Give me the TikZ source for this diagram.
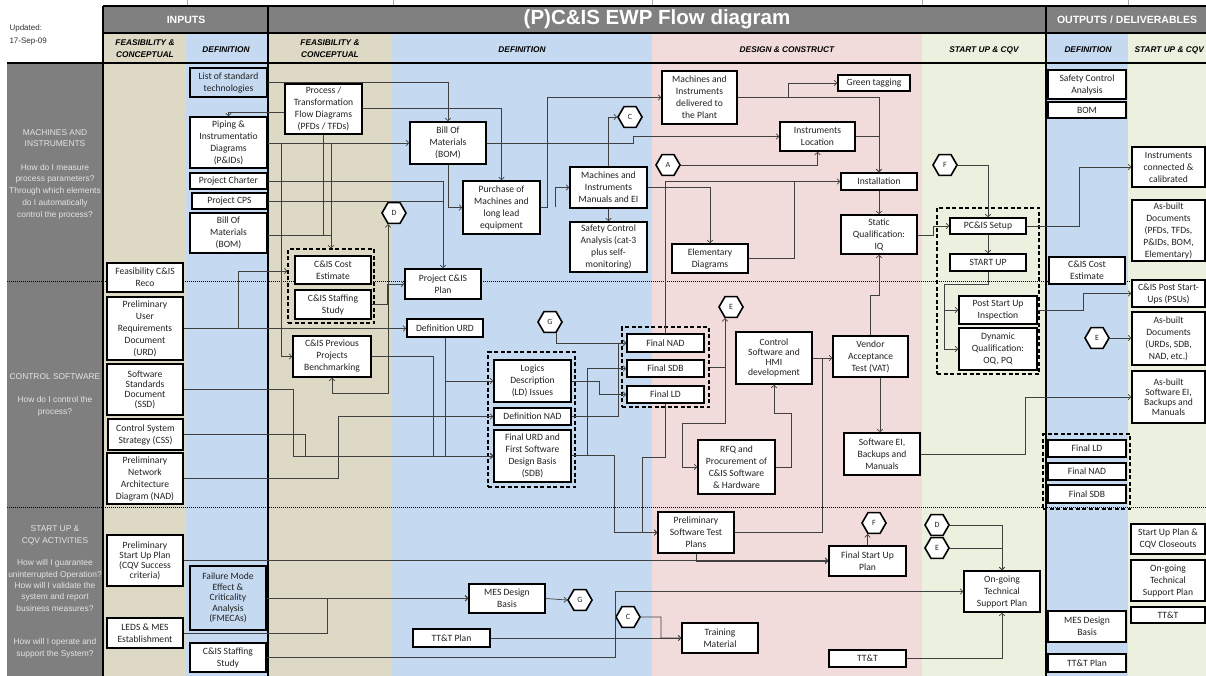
\documentclass[tikz,border=0pt]{standalone}
\usepackage{fontspec}
\setmainfont{Carlito}
\newfontfamily\arialfont{Liberation Sans}
\usetikzlibrary{arrows.meta,shapes.geometric}
\definecolor{hdrgray}{HTML}{808080}
\definecolor{sidegray}{HTML}{7F7F7F}
\definecolor{tanbg}{HTML}{DDD9C4}
\definecolor{bluebg}{HTML}{C5D9F1}
\definecolor{pinkbg}{HTML}{F2DCDB}
\definecolor{greenbg}{HTML}{EBF1DE}
\definecolor{sidetext}{HTML}{E4E4E4}
\definecolor{linegray}{HTML}{404040}
\definecolor{boxtext}{HTML}{222222}
% box given by its corners: [options]{name}{x1}{y1}{x2}{y2}{text}
\newcommand\flowbox[7][]{\node[bx,minimum width={#5-#3},minimum height={#6-#4},#1] (#2) at ({(#3+#5)/2},{(#4+#6)/2}) {#7};}
\begin{document}
\begin{tikzpicture}[x=1pt,y=-1pt,
  bx/.style={draw=black,fill=white,line width=1.6pt,align=center,inner sep=0pt,
    font=\fontsize{9.6}{12}\selectfont,text=boxtext},
  tight/.style={font=\fontsize{9.6}{10}\selectfont},
  grp/.style={fill=none,draw=black,line width=1.2pt,dash pattern=on 4pt off 2.5pt},
  hexa/.style={regular polygon,regular polygon sides=6,draw=black,fill=white,line width=1.6pt,
    minimum size=24pt,inner sep=0pt,font=\fontsize{8}{9}\selectfont,text=boxtext},
  ln/.style={draw=linegray,line width=0.7pt},
  arr/.style={ln,-{Straight Barb[length=2.6pt,width=5.5pt]}},
  arrb/.style={ln,{Straight Barb[length=2.6pt,width=5.5pt]}-{Straight Barb[length=2.6pt,width=5.5pt]}},
  hdr/.style={text=white,font=\arialfont\bfseries\fontsize{10.5}{12}\selectfont},
  sub/.style={align=center,font=\arialfont\bfseries\itshape\fontsize{8.3}{11.5}\selectfont},
  side/.style={align=center,text=sidetext,font=\arialfont\fontsize{8.4}{11.7}\selectfont},
  sep/.style={line width=0.9pt,dash pattern=on 1pt off 1pt}
]
\useasboundingbox (0,0) rectangle (1206,676);
\fill[white] (0,0) rectangle (1206,676);

% phase columns
\fill[tanbg]   (103,33)  rectangle (186,676);
\fill[bluebg]  (186,33)  rectangle (268,676);
\fill[tanbg]   (268,33)  rectangle (392,676);
\fill[bluebg]  (392,33)  rectangle (652,676);
\fill[pinkbg]  (652,33)  rectangle (922,676);
\fill[greenbg] (922,33)  rectangle (1046,676);
\fill[bluebg]  (1046,33) rectangle (1128,676);
\fill[greenbg] (1128,33) rectangle (1206,676);
\fill[hdrgray] (103,6) rectangle (1206,33);
\fill[sidegray] (7,63) rectangle (103,676);

% column ticks above the header
\foreach \cx in {187,393,652,922,1128}
  \draw[black!35,line width=0.8pt] (\cx,0) -- (\cx,6);

% frame lines
\draw[line width=1.5pt] (103,6) -- (1206,6);
\draw[line width=1.8pt] (103,33) -- (1206,33);
\draw[line width=1.8pt] (7,63) -- (1206,63);
\draw[line width=1.8pt] (103,6) -- (103,676);
\draw[line width=1.8pt] (268,6) -- (268,676);
\draw[line width=1.8pt] (1046,6) -- (1046,676);

% row separators
\draw[sep] (7,281) -- (1206,281);
\draw[sep] (7,507) -- (1206,507);

% headings
\node[anchor=west,text=black!80,font=\arialfont\fontsize{8}{9}\selectfont] at (6,28) {Updated:};
\node[anchor=west,text=black!80,font=\arialfont\fontsize{8}{9}\selectfont] at (6,42) {17-Sep-09};
\node[hdr] at (186,19.5) {INPUTS};
\node[hdr,font=\arialfont\bfseries\fontsize{20.5}{22}\selectfont] at (657,19.5) {(P)C\&IS EWP Flow diagram};
\node[hdr] at (1127,19.5) {OUTPUTS / DELIVERABLES};
\node[sub] at (145,48.5) {FEASIBILITY \&\\CONCEPTUAL};
\node[sub] at (226,50) {DEFINITION};
\node[sub] at (330,48.5) {FEASIBILITY \&\\CONCEPTUAL};
\node[sub] at (522,50) {DEFINITION};
\node[sub] at (787,50) {DESIGN \& CONSTRUCT};
\node[sub] at (984,50) {START UP \& CQV};
\node[sub] at (1088,50) {DEFINITION};
\node[sub,anchor=west] at (1131,50) {START UP \& CQV};

% row titles
\node[side] at (55,174) {MACHINES AND\\INSTRUMENTS\\[11.7pt]How do I measure\\process parameters?\\Through which elements\\do I automatically\\control the process?};
\node[side] at (55,394.5) {CONTROL SOFTWARE\\[11.7pt]How do I control the\\process?};
\node[side,font=\arialfont\fontsize{8.4}{11.3}\selectfont] at (55,592) {START UP \&\\CQV ACTIVITIES\\[11.3pt]How will I guarantee\\uninterrupted Operation?\\How will I validate the\\system and report\\business measures?\\[22.6pt]How will I operate and\\support the System?};

% dashed groups
\flowbox[grp]{g1}{288}{249}{374}{323}{}
\flowbox[grp]{g2}{488}{352}{575}{487}{}
\flowbox[grp]{g3}{622}{327}{709}{407}{}
\flowbox[grp]{g4}{937}{208}{1039}{374}{}
\flowbox[grp]{g5}{1043}{434}{1130}{509}{}

% inputs: feasibility & conceptual
\flowbox{reco}{107}{263}{183}{292}{Feasibility C\&IS\\Reco}
\flowbox{purd}{107}{297}{183}{360}{Preliminary\\User\\Requirements\\Document\\(URD)}
\flowbox[tight]{ssd}{107}{364}{183}{415}{Software\\Standards\\Document\\(SSD)}
\flowbox{css}{108}{419}{183}{450}{Control System\\Strategy (CSS)}
\flowbox{pnad}{107}{453}{183}{504}{Preliminary\\Network\\Architecture\\Diagram (NAD)}
\flowbox[tight]{psup}{107}{535}{183}{586}{Preliminary\\Start Up Plan\\(CQV Success\\criteria)}
\flowbox{leds}{107}{618}{183}{648}{LEDS \& MES\\Establishment}

% inputs: definition
\flowbox[fill=bluebg]{list}{190}{68}{267}{97}{List of standard\\technologies}
\flowbox{pid}{190}{117}{267}{168}{Piping \&\\Instrumentatio\\Diagrams\\(P\&IDs)}
\flowbox{charter}{190}{173}{267}{189}{Project Charter}
\flowbox{cps}{192}{193}{267}{209}{Project CPS}
\flowbox{bomin}{190}{213}{267}{253}{Bill Of\\Materials\\(BOM)}
\flowbox[fill=bluebg,font=\fontsize{9.6}{10.4}\selectfont]{fmeca}{190}{566}{266}{630}{Failure Mode\\Effect \&\\Criticality\\Analysis\\(FMECAs)}
\flowbox{staffin}{190}{643}{266}{672}{C\&IS Staffing\\Study}

% feasibility & conceptual
\flowbox{pfd}{285}{84}{362}{134}{Process /\\Transformation\\Flow Diagrams\\(PFDs / TFDs)}
\flowbox{cost}{295}{256}{371}{284}{C\&IS Cost\\Estimate}
\flowbox{staff}{295}{290}{371}{319}{C\&IS Staffing\\Study}
\flowbox{bench}{293}{336}{371}{377}{C\&IS Previous\\Projects\\Benchmarking}
\node[hexa] (hexD1) at (394,213) {D};

% definition
\flowbox{bom}{410}{122}{486}{164}{Bill Of\\Materials\\(BOM)}
\flowbox{purchase}{463}{181}{540}{234}{Purchase of\\Machines and\\long lead\\equipment}
\flowbox{plan}{405}{269}{481}{299}{Project C\&IS\\Plan}
\flowbox{durd}{407}{319}{483}{337}{Definition URD}
\node[hexa] (hexG1) at (550,322) {G};
\flowbox{logics}{494}{360}{571}{402}{Logics\\Description\\(LD) Issues}
\flowbox{dnad}{494}{408}{571}{425}{Definition NAD}
\flowbox{furd}{494}{430}{571}{482}{Final URD and\\First Software\\Design Basis\\(SDB)}
\flowbox{manuals}{570}{167}{647}{208}{Machines and\\Instruments\\Manuals and EI}
\flowbox{safety}{570}{222}{647}{272}{Safety Control\\Analysis (cat-3\\plus self-\\monitoring)}
\node[hexa] (hexC1) at (630,117) {C};
\flowbox{mes}{469}{584}{545}{613}{MES Design\\Basis}
\node[hexa] (hexG2) at (580,600) {G};
\flowbox{ttplan}{413}{629}{490}{647}{TT\&T Plan}

% design & construct
\flowbox{delivered}{662}{71}{737}{124}{Machines and\\Instruments\\delivered to\\the Plant}
\flowbox{green}{838}{75}{910}{91}{Green tagging}
\flowbox{instloc}{780}{122}{855}{151}{Instruments\\Location}
\node[hexa] (hexA) at (668,165) {A};
\flowbox{install}{841}{173}{917}{190}{Installation}
\flowbox{static}{841}{215}{917}{254}{Static\\Qualification:\\IQ}
\flowbox{elem}{672}{244}{748}{273}{Elementary\\Diagrams}
\node[hexa] (hexE1) at (731,307) {E};
\flowbox{fnad}{627}{334}{704}{352}{Final NAD}
\flowbox{fsdb}{627}{360}{704}{377}{Final SDB}
\flowbox{fld}{627}{386}{704}{403}{Final LD}
\flowbox[tight]{ctrl}{736}{332}{812}{384}{Control\\Software and\\HMI\\development}
\flowbox{vat}{833}{336}{908}{377}{Vendor\\Acceptance\\Test (VAT)}
\flowbox{swei}{844}{433}{920}{475}{Software EI,\\Backups and\\Manuals}
\flowbox{rfq}{698}{440}{775}{494}{RFQ and\\Procurement of\\C\&IS Software\\\& Hardware}
\flowbox{tplans}{658}{512}{734}{553}{Preliminary\\Software Test\\Plans}
\node[hexa] (hexF1) at (874,523) {F};
\flowbox{fsup}{829}{546}{906}{576}{Final Start Up\\Plan}
\node[hexa] (hexC2) at (628,617) {C};
\flowbox{training}{682}{623}{758}{653}{Training\\Material}
\flowbox{ttt}{829}{650}{906}{667}{TT\&T}

% start up & CQV
\node[hexa] (hexF2) at (945,165) {F};
\flowbox{pcis}{950}{218}{1026}{234}{PC\&IS Setup}
\flowbox{startup}{950}{254}{1026}{271}{START UP}
\flowbox{psui}{959}{296}{1037}{324}{Post Start Up\\Inspection}
\flowbox{dynq}{959}{328}{1037}{370}{Dynamic\\Qualification:\\OQ, PQ}
\node[hexa] (hexD2) at (937,525) {D};
\node[hexa] (hexE2) at (937,548) {E};
\flowbox{ongoing}{964}{571}{1040}{612}{On-going\\Technical\\Support Plan}

% outputs: definition
\flowbox{osca}{1048}{70}{1126}{99}{Safety Control\\Analysis}
\flowbox{obom}{1048}{102}{1126}{118}{BOM}
\flowbox{ocost}{1049}{257}{1125}{284}{C\&IS Cost\\Estimate}
\node[hexa] (hexE3) at (1097,338) {E};
\flowbox{ofld}{1048}{440}{1126}{457}{Final LD}
\flowbox{ofnad}{1048}{463}{1126}{480}{Final NAD}
\flowbox{ofsdb}{1048}{485}{1126}{503}{Final SDB}
\flowbox{omes}{1048}{611}{1126}{642}{MES Design\\Basis}
\flowbox{ottplan}{1048}{654}{1126}{672}{TT\&T Plan}

% outputs: start up & CQV
\flowbox{oinst}{1132}{147}{1205}{187}{Instruments\\connected \&\\calibrated}
\flowbox{oasb1}{1132}{200}{1205}{261}{As-built\\Documents\\(PFDs, TFDs,\\P\&IDs, BOM,\\Elementary)}
\flowbox{opsu}{1132}{280}{1205}{307}{C\&IS Post Start-\\Ups (PSUs)}
\flowbox{oasb2}{1132}{312}{1205}{365}{As-built\\Documents\\(URDs, SDB,\\NAD, etc.)}
\flowbox[tight]{oasb3}{1132}{371}{1205}{423}{As-built\\Software EI,\\Backups and\\Manuals}
\flowbox{osup}{1131}{524}{1205}{554}{Start Up Plan \&\\CQV Closeouts}
\flowbox{oong}{1131}{560}{1205}{601}{On-going\\Technical\\Support Plan}
\flowbox{ottt}{1131}{607}{1205}{623}{TT\&T}

% ---- connectors: machines and instruments
\draw[arr] (list.east) -| (bom.north);
\draw[arr] (pfd.west |- 0,112) -| (pid.north);
\draw[arr] (pid.east |- 0,143) -- (bom.west |- 0,143);
\draw[arr] (pid.east |- 0,143) -| (281,356.5) -- (bench.west);
\draw[ln] (331,143) -- (331,235);
\draw[ln] (pfd.south) -- (323.5,235);
\draw[arr] (bomin.east |- 0,235) -- (331,235) -- (g1.north -| 331,0);
\draw[arr] (pfd.east |- 0,108) -| (purchase.north);
\draw[arr] (charter.east) -| (plan.north);
\draw[ln] (cps.east) -- (cps.east -| plan.north);
\draw[arr] (bom.east) -- (633,143) |- (instloc.west);
\draw[arr] (bom.south) |- (purchase.west);
\draw[arr] (purchase.east) -- (547,207.5) |- (delivered.west);
\draw[arr] (555,207.5) |- (manuals.west);
\draw[arr] (manuals.north) |- (hexC1.west);
\draw[arr] (manuals.south) -- (safety.north);
\draw[arr] (manuals.east) -| (elem.north);
\draw[arr] (delivered.east) -- (788,97.5) |- (green.west);
\draw[arr] (delivered.east) -| (install.north);
\draw[arr] (instloc.east) -| (install.north);
\draw[arr] (hexA.east) -| (instloc.south);
\draw[arr] (fnad.north) |- (install.west);
\draw[ln] (elem.east) -| (794,181.5);
\draw[arr] (install.south) -- (static.north);
\draw[arr] (vat.north) -- (870.5,295) -| (static.south);
\draw[arr] (static.east |- 0,235) -- (933,235) |- (pcis.west);
\draw[arr] (hexF2.east) -| (pcis.north);
\draw[arr] (pcis.east) -- (1079,226) |- (oinst.west);
\draw[arr] (pcis.south) -- (startup.north);
\draw[arr] (startup.south) |- (944,284) |- (psui.west);
\draw[arr] (944,300) |- (dynq.west);
\draw[arr] (psui.east) -- (1083,310) |- (opsu.west);

% ---- connectors: control software
\draw[arr] (purd.east) -- (purd.east -| durd.west);
\draw[arr] (purd.east) -- (238,328.5) |- (g1.west |- 0,271);
\draw[arr] (staff.east) -- (387,304.5) |- (plan.west);
\draw[arrb] (bench.south) |- (388,393) -- (hexD1.south -| 388,0);
\draw[arr] (durd.south) |- (logics.west);
\draw[arr] (445,381) |- (furd.west);
\draw[arr] (bench.east) -- (433,356.5) |- (furd.west);
\draw[arr] (ssd.east) -- (293,389.5) |- (furd.west);
\draw[arr] (css.east) -- (305,434.5) |- (furd.west);
\draw[arr] (pnad.east) -- (338,478.5) |- (dnad.west);
\draw[arr] (hexG1.south -| 556,0) |- (fnad.west);
\draw[arr] (logics.east) -- (599,381) |- (fld.west);
\draw[arr] (dnad.east) -- (618,416.5) |- (fnad.west);
\draw[arr] (furd.east |- 0,455) -- (587,455) |- (fsdb.west);
\draw[arr] (furd.east |- 0,455) -- (614,455) |- (tplans.west);
\draw[arr] (fld.south) |- (642,457) |- (tplans.west);
\draw[arr] (g3.east |- 0,367) -- (725,367) -- (hexE1.south -| 725,0);
\draw[arr] (725,367) |- (682,423) |- (rfq.west);
\draw[arr] (rfq.east) -- (791,467) |- (774,413) -- (ctrl.south);
\draw[arr] (ctrl.east) -- (ctrl.east -| vat.west);
\draw[ln] (tplans.east) -| (822,358);
\draw[arr] (vat.south -| 880,0) -- (swei.north -| 880,0);
\draw[arr] (swei.east) -- (1025,454) |- (oasb3.west);
\draw[arr] (hexE3.east) -- (hexE3.east -| oasb2.west);

% ---- connectors: start up & CQV activities
\draw[arr] (psup.east) -- (psup.east -| fsup.west);
\draw[arr] (tplans.south) |- (fsup.west);
\draw[arr] (fsup.north) -- (fsup.north |- hexF1.south);
\draw[arr] (fmeca.east) -- (fmeca.east -| mes.west);
\draw[arr] (leds.east) -- (327,633) |- (mes.west);
\draw[arr] (mes.east) -- (hexG2.west);
\draw[arr] (hexC2.east) -- (661,617) |- (training.west);
\draw[arr] (ttplan.east) -- (training.west);
\draw[arr] (staffin.east) -- (615,657.5) |- (ongoing.west);
\draw[arr] (hexD2.east) -| (ongoing.north);
\draw[arr] (hexE2.east) -| (ongoing.north);
\draw[arr] (ttt.east) -| (ongoing.south);
\end{tikzpicture}
\end{document}
